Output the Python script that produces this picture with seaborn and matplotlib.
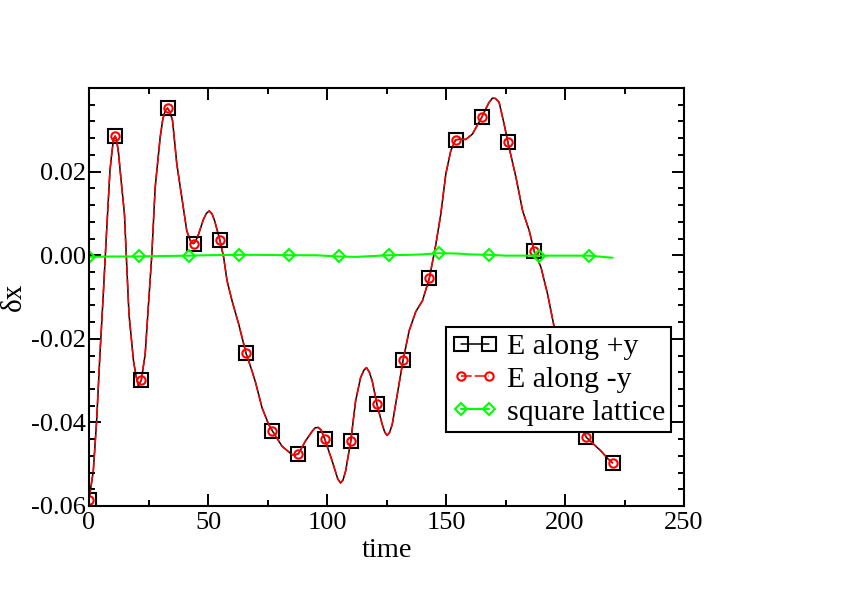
import matplotlib
matplotlib.use("Agg")
import matplotlib.pyplot as plt
import seaborn as sns
import pandas as pd
from matplotlib.ticker import MultipleLocator, FormatStrFormatter

# values
time_e = [0, 1.8, 3.2, 4.6, 6.0, 7.4, 8.8, 9.5, 10.3, 11, 11.6, 12.4, 13.1, 14.9,
          15.9, 16.8, 18.7, 19.8, 20.8, 22, 23.6, 25, 26.4, 27.8, 29.9, 31, 32, 33,
          34, 35.1, 36.9, 39, 41.1, 42.9, 44, 45, 46, 48.1, 49.3, 50.5, 51.7, 52.8,
          55, 56.6, 58, 60.1, 62.9, 66, 68.5, 70, 72.7, 75.5, 77, 81.1, 85.3, 86.5,
          88, 90.9, 93.8, 95, 96.3, 97.5, 99, 102.2, 104.5, 105.7, 106.7, 107.8,
          110, 112, 114.1, 115.5, 116.6, 117.8, 119, 121, 123.2, 124.3, 125.3, 126.3,
          127.4, 130, 132, 134.5, 137.3, 140.1, 143, 145.7, 147.8, 149.9, 152, 154,
          156, 158.3, 161.1, 165, 168, 169.5, 170.8, 172.3, 174.4, 176, 179.4, 182.2,
          185, 187, 189.9, 192.7, 195.2, 198, 201, 204, 207, 209, 212, 215.2, 218,
          220]
dx_plus_y = [-0.0585, -0.0517, -0.0397, -0.0237, -0.0094, 0.0058, 0.0202, 0.0240,
             0.0278, 0.0285, 0.0276, 0.0245, 0.0202, 0.0098, -0.0030, -0.0141,
             -0.0253, -0.0290, -0.0313, -0.0298, -0.0237, -0.0117, 0.0002, 0.0162,
             0.0282, 0.0325, 0.0346, 0.0352, 0.0343, 0.0322, 0.0218, 0.0138, 0.0058,
             0.0030, 0.0028, 0.0036, 0.0050, 0.0086, 0.0100, 0.0106, 0.0099, 0.0082,
             0.0036, -0.0006, -0.0061, -0.0109, -0.0165, -0.0235, -0.0277, -0.0305,
             -0.0365, -0.0405, -0.0420, -0.0457, -0.0477, -0.0478, -0.0475, -0.0445,
             -0.0421, -0.0413, -0.0412, -0.0418, -0.0439, -0.0493, -0.0535, -0.0545,
             -0.0538, -0.0517, -0.0444, -0.0349, -0.0293, -0.0275, -0.0269, -0.0280,
             -0.0301, -0.0357, -0.0405, -0.0424, -0.0431, -0.0424, -0.0405, -0.0317,
             -0.0250, -0.0181, -0.0135, -0.0109, -0.0055, 0.0025, 0.0098, 0.0194,
             0.0250, 0.0276, 0.0278, 0.0277, 0.0290, 0.0330, 0.0365, 0.0376, 0.0375,
             0.0366, 0.0314, 0.0270, 0.0186, 0.0106, 0.0058, 0.0010, -0.0029, -0.0094,
             -0.0165, -0.0250, -0.0320, -0.0375, -0.0415, -0.0436, -0.0452, -0.0469,
             -0.0487, -0.0497]
dx_minus_y = list(dx_plus_y)

time_sq = [0, 10, 21, 30, 42, 50, 63, 70, 84, 95, 105, 112, 126, 135, 140, 147, 155,
           160, 168, 175, 189, 200, 210, 220]
dx_square = [-0.0004, -0.0003, -0.0003, -0.0002, -0.0001, 0.0, 0.0001, 0.0001, 0.0,
             0.0, -0.0003, -0.0004, 0.0, 0.0001, 0.0002, 0.0005, 0.0004, 0.0002,
             0.0001, -0.0001, -0.0001, -0.0001, -0.0001, -0.0006]

def mark_idx(ts, step):
    return [i for i, t in enumerate(ts) if float(t).is_integer() and int(t) % step == 0]

sns.set_style("ticks")
plt.rcParams['font.family'] = ['Liberation Serif', 'DejaVu Serif']
plt.rcParams['text.color'] = 'black'
plt.rcParams['axes.labelcolor'] = 'black'

df_e = pd.DataFrame({'time': time_e, 'plus': dx_plus_y, 'minus': dx_minus_y})
df_sq = pd.DataFrame({'time': time_sq, 'sq': dx_square})

fig = plt.figure(figsize=(8.42, 5.95), dpi=100)
ax = fig.add_axes([0.1057, 0.1496, 0.7067, 0.7024])

sns.lineplot(data=df_e, x='time', y='plus', ax=ax, color='black', linewidth=1.1,
             marker='s', markersize=9.5, markerfacecolor='none',
             markeredgecolor='black', markeredgewidth=1.5,
             markevery=mark_idx(time_e, 11), label='E along +y')
sns.lineplot(data=df_e, x='time', y='minus', ax=ax, color='red', linewidth=1.1,
             linestyle=(0, (7, 2)), marker='o', markersize=6,
             markerfacecolor='none', markeredgecolor='red', markeredgewidth=1.5,
             markevery=mark_idx(time_e, 11), label='E along -y')
sns.lineplot(data=df_sq, x='time', y='sq', ax=ax, color='#00ff00', linewidth=1.5,
             marker='D', markersize=6.5, markerfacecolor='none',
             markeredgecolor='#00ff00', markeredgewidth=1.5,
             markevery=mark_idx(time_sq, 21), label='square lattice')

ax.set_xlim(0, 250)
ax.set_ylim(-0.06, 0.04)
ax.set_xticks([0, 50, 100, 150, 200, 250])
ax.set_yticks([-0.06, -0.04, -0.02, 0.00, 0.02])
ax.xaxis.set_minor_locator(MultipleLocator(25))
ax.yaxis.set_minor_locator(MultipleLocator(0.004))
ax.yaxis.set_major_formatter(FormatStrFormatter('%.2f'))
ax.tick_params(which='both', direction='in', top=True, right=True, width=1.4,
               labelsize=19, colors='black')
ax.tick_params(which='major', length=8.5)
ax.tick_params(which='minor', length=4.3)
ax.tick_params(axis='x', pad=4)
ax.tick_params(axis='y', pad=2)
for s in ax.spines.values():
    s.set_linewidth(1.5)
    s.set_color('black')

ax.set_xlabel('time', fontsize=20.5, labelpad=3, color='black')
ax.set_ylabel('δx', fontsize=21, labelpad=3, color='black')

leg = ax.legend(loc='upper left', bbox_to_anchor=(0.60, 0.428), fontsize=21.5,
                numpoints=2, handlelength=1.55, handletextpad=0.3, labelspacing=0.2,
                borderpad=0.2, borderaxespad=0, fancybox=False, framealpha=1,
                edgecolor='black', labelcolor='black')
leg.get_frame().set_linewidth(1.5)

fig.savefig('out.png', dpi=100)
